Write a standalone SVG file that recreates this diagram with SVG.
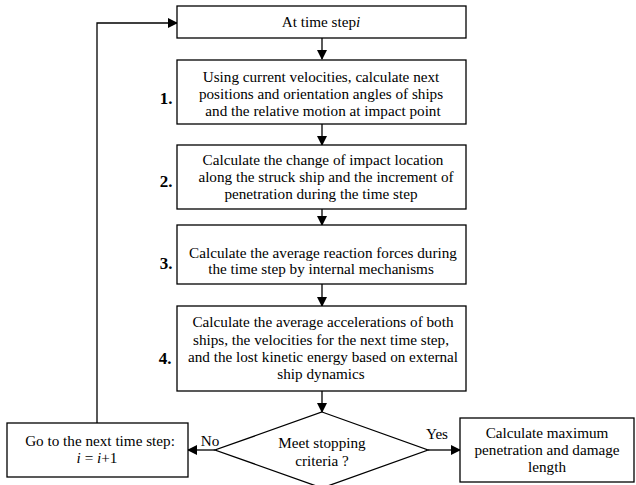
<svg xmlns="http://www.w3.org/2000/svg" width="636" height="485" viewBox="0 0 636 485">
<style>
  .box { fill: #fff; stroke: #000; stroke-width: 1.3; }
  .t { font-family: "Liberation Serif", "Times New Roman", serif; font-size: 15.2px; fill: #000; text-anchor: middle; }
  .n { font-family: "Liberation Serif", "Times New Roman", serif; font-size: 17px; font-weight: bold; fill: #000; text-anchor: middle; }
  .c { fill: none; stroke: #000; stroke-width: 1.3; }
</style>
<defs>
  <marker id="arr" markerWidth="10" markerHeight="10" refX="9" refY="5" orient="auto" markerUnits="userSpaceOnUse">
    <path d="M0,0 L10,5 L0,10 Z" fill="#000"/>
  </marker>
</defs>
<rect width="636" height="485" fill="#fff"/>
<g id="connectors">
  <line class="c" x1="322" y1="38" x2="322" y2="59" marker-end="url(#arr)"/>
  <line class="c" x1="322" y1="124" x2="322" y2="145" marker-end="url(#arr)"/>
  <line class="c" x1="322" y1="209" x2="322" y2="225" marker-end="url(#arr)"/>
  <line class="c" x1="322" y1="284" x2="322" y2="306" marker-end="url(#arr)"/>
  <line class="c" x1="322" y1="391" x2="322" y2="412" marker-end="url(#arr)"/>
  <line class="c" x1="215" y1="450" x2="188" y2="450" marker-end="url(#arr)"/>
  <line class="c" x1="428" y1="450" x2="460" y2="450" marker-end="url(#arr)"/>
  <polyline class="c" points="97,423 97,23 177,23" marker-end="url(#arr)"/>
  <text class="t" x="210" y="446">No</text>
  <text class="t" x="437" y="439">Yes</text>
</g>
<g id="start">
  <rect class="box" x="177" y="6" width="289" height="32"/>
  <text class="t" x="321" y="27">At time step<tspan font-style="italic">i</tspan></text>
</g>
<g id="step1">
  <rect class="box" x="177" y="60" width="289" height="64"/>
  <text class="n" x="166" y="104">1.</text>
  <text class="t" x="321" y="82">Using current velocities, calculate next</text>
  <text class="t" x="321" y="99">positions and orientation angles of ships</text>
  <text class="t" x="323" y="116">and the relative motion at impact point</text>
</g>
<g id="step2">
  <rect class="box" x="177" y="145" width="289" height="64"/>
  <text class="n" x="166" y="187">2.</text>
  <text class="t" x="323" y="165">Calculate the change of impact location</text>
  <text class="t" x="326" y="182">along the struck ship and the increment of</text>
  <text class="t" x="321" y="199">penetration during the time step</text>
</g>
<g id="step3">
  <rect class="box" x="177" y="225" width="289" height="59"/>
  <text class="n" x="166" y="269">3.</text>
  <text class="t" x="323" y="258">Calculate the average reaction forces during</text>
  <text class="t" x="321" y="274">the time step by internal mechanisms</text>
</g>
<g id="step4">
  <rect class="box" x="177" y="306" width="289" height="85"/>
  <text class="n" x="165" y="364">4.</text>
  <text class="t" x="323" y="327">Calculate the average accelerations of both</text>
  <text class="t" x="321" y="345">ships, the velocities for the next time step,</text>
  <text class="t" x="323" y="362">and the lost kinetic energy based on external</text>
  <text class="t" x="321" y="379">ship dynamics</text>
</g>
<g id="decision">
  <polygon class="box" points="322,412 428,450 322,488 215,450"/>
  <text class="t" x="322" y="448">Meet stopping</text>
  <text class="t" x="322" y="466">criteria ?</text>
</g>
<g id="next">
  <rect class="box" x="7" y="423" width="181" height="54"/>
  <text class="t" x="100" y="446">Go to the next time step:</text>
  <text class="t" x="97" y="463"><tspan font-style="italic">i</tspan> = <tspan font-style="italic">i</tspan>+1</text>
</g>
<g id="result">
  <rect class="box" x="460" y="418" width="174" height="64"/>
  <text class="t" x="547" y="438">Calculate maximum</text>
  <text class="t" x="547" y="455">penetration and damage</text>
  <text class="t" x="547" y="472">length</text>
</g>
</svg>
